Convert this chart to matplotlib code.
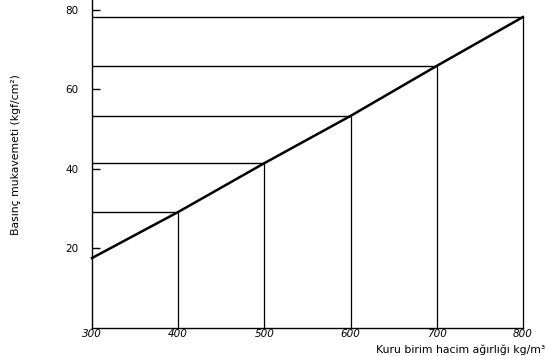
import matplotlib
matplotlib.use("Agg")
import matplotlib.pyplot as plt

density = [300, 400, 500, 600, 700, 800]
strength = [17.5, 29.1, 41.4, 53.3, 65.9, 78.2]
x_ticks = [300, 400, 500, 600, 700, 800]
y_ticks = [20, 40, 60, 80]

fig = plt.figure(figsize=(5.46, 3.56), dpi=100)
ax = fig.add_axes([0.1685, 0.080, 0.79, 0.92])
ax.set_xlim(300, 800.5)
ax.set_ylim(0, 82.5)

# guide lines
for x, y in zip(density[1:], strength[1:]):
    ax.plot([300, x], [y, y], color="black", lw=1.0, solid_capstyle="butt", clip_on=False)
    ax.plot([x, x], [0, y], color="black", lw=0.9, solid_capstyle="butt", clip_on=False)

ax.plot(density, strength, color="black", lw=1.8, clip_on=False)

for s in ["top", "right"]:
    ax.spines[s].set_visible(False)
for s in ["left", "bottom"]:
    ax.spines[s].set_linewidth(1.0)

ax.set_yticks(y_ticks)
ax.set_xticks(x_ticks)
ax.tick_params(axis="y", direction="in", length=6, width=1, labelsize=7.5, pad=10)
ax.tick_params(axis="x", length=0, labelsize=7.5, pad=1)
for lab in ax.get_xticklabels():
    lab.set_style("italic")

fig.text(0.999, 0.002, "Kuru birim hacim ağırlığı kg/m³", ha="right", va="bottom", fontsize=7.8)
fig.text(0.03, 0.565, "Basınç mukavemeti (kgf/cm²)", rotation=90, ha="center", va="center", fontsize=7.8)

fig.savefig("out.png", dpi=100)
